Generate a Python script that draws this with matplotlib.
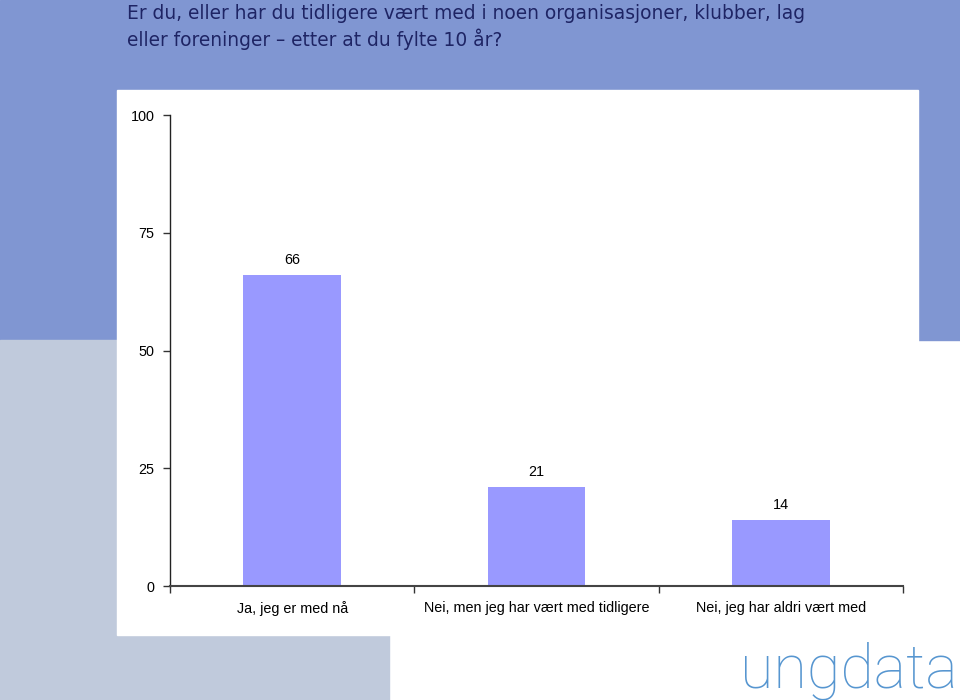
import matplotlib.pyplot as plt
from matplotlib.patches import Rectangle

title = ("Er du, eller har du tidligere vært med i noen organisasjoner, klubber, lag\n"
         "eller foreninger \u2013 etter at du fylte 10 år?")
categories = ["Ja, jeg er med nå", "Nei, men jeg har vært med tidligere", "Nei, jeg har aldri vært med"]
values = [66, 21, 14]
y_ticks = [0, 25, 50, 75, 100]

bar_color = "#9999ff"
top_blue = "#8096d2"
grey_blue = "#c0cadc"
title_color = "#1e2464"


def draw_background(fig):
    # blue block at top, grey block bottom left, white chart panel
    fig.patches.append(Rectangle((0, 360 / 700), 1, 340 / 700, transform=fig.transFigure,
                                 color=top_blue, zorder=-3))
    fig.patches.append(Rectangle((0, 0), 389 / 960, 360 / 700, transform=fig.transFigure,
                                 color=grey_blue, zorder=-3))
    fig.patches.append(Rectangle((117 / 960, 65 / 700), 801 / 960, 545 / 700,
                                 transform=fig.transFigure, color="white", zorder=-2))


def draw_chart(fig):
    ax = fig.add_axes([170 / 960, 1 - 586 / 700, 733 / 960, 471 / 700])
    ax.set_zorder(2)
    ax.patch.set_alpha(0)
    x = range(len(categories))
    bars = ax.bar(x, values, width=0.4, color=bar_color, zorder=2)
    for b, v in zip(bars, values):
        ax.annotate(str(v), (b.get_x() + b.get_width() / 2, v), xytext=(0, 6),
                    textcoords="offset points", ha="center", va="bottom",
                    fontsize=10.4, family="Liberation Sans", color="black")

    ax.set_xlim(-0.5, len(categories) - 0.5)
    ax.set_ylim(0, 100)
    ax.set_yticks(y_ticks)
    ax.set_yticklabels([str(t) for t in y_ticks], family="Liberation Sans", fontsize=10.4)
    ax.set_xticks([i - 0.5 for i in range(len(categories) + 1)])
    ax.set_xticklabels([])
    ax.set_xticks(list(x), minor=True)
    ax.set_xticklabels(categories, minor=True, family="Liberation Sans", fontsize=10.4)
    ax.tick_params(axis="x", which="minor", length=0, pad=11)
    ax.tick_params(axis="x", which="major", length=5, width=1, color="#333333")
    ax.tick_params(axis="y", length=5, width=1, color="#333333", pad=6)

    for s in ["top", "right"]:
        ax.spines[s].set_visible(False)
    ax.spines["left"].set_color("#222222")
    ax.spines["left"].set_linewidth(1)
    ax.spines["bottom"].set_color("#444444")
    ax.spines["bottom"].set_linewidth(1.5)


if __name__ == '__main__':
    fig = plt.figure(figsize=(9.6, 7), dpi=100)
    draw_background(fig)
    fig.text(127 / 960, 1 - 4 / 700, title, ha="left", va="top", fontsize=13.4,
             family="DejaVu Sans", color=title_color, linespacing=1.32)
    draw_chart(fig)
    fig.text(958 / 960, 1 - 688 / 700, "ungdata", ha="right", va="baseline", fontsize=44,
             family="Roboto", fontweight="light", color="#5796d0")
    fig.savefig("out.png", dpi=100)
